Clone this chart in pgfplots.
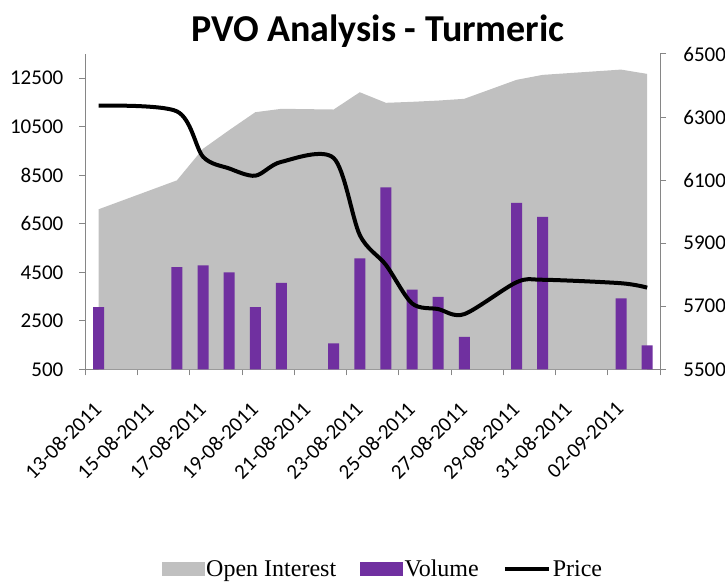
\documentclass[border=0pt]{standalone}
\usepackage{pgfplots}
\pgfplotsset{compat=1.18}
\usepackage{fontspec}
\setmainfont{Carlito}
\newfontfamily\legfont{Liberation Serif}
\definecolor{oigray}{RGB}{192,192,192}
\definecolor{volpurple}{RGB}{112,48,160}
\definecolor{axgray}{RGB}{134,134,134}

\pgfplotstableread{
x oi
0 7097
3 8290
4 9594
5 10360
6 11100
7 11240
9 11211
10 11923
11 11487
12 11528
13 11580
14 11652
16 12434
17 12639
20 12857
21 12680
}\oitable

\pgfplotstableread{
x vol
0 3060
3 4710
4 4780
5 4500
6 3060
7 4060
9 1570
10 5070
11 8000
12 3780
13 3490
14 1840
16 7360
17 6780
20 3420
21 1490
}\voltable

\pgfplotstableread{
x price
0 6336
3 6318
4 6174
5 6137
6 6114
7 6158
9 6170
10 5926
11 5831
12 5709
13 5691
14 5675
16 5776
17 5784
20 5773
21 5759
}\pricetable

\begin{document}
\begin{tikzpicture}
\useasboundingbox (0,0) rectangle (725pt,581pt);
\node[font=\fontsize{38}{44}\selectfont\bfseries, anchor=base] at (378pt,539pt) {PVO Analysis - Turmeric};

\pgfplotsset{
  common/.style={
    at={(85.5pt,211.7pt)}, anchor=south west,
    scale only axis, width=574.7pt, height=315.3pt,
    xmin=-0.5, xmax=21.5,
    tick align=outside, major tick length=6pt,
    scaled y ticks=false, scaled x ticks=false,
    axis line style={axgray, line width=1pt},
    every tick/.style={axgray, line width=1pt},
  }
}

\begin{axis}[common,
  ymin=500, ymax=13500,
  axis x line*=bottom, axis y line*=left,
  ytick={500,2500,4500,6500,8500,10500,12500},
  yticklabels={500,2500,4500,6500,8500,10500,12500},
  yticklabel style={font=\fontsize{21}{25}\selectfont, inner sep=0pt, anchor=east, xshift=-16pt},
  xtick={-0.5,1.5,3.5,5.5,7.5,9.5,11.5,13.5,15.5,17.5,19.5,21.5},
  xticklabels={13-08-2011,15-08-2011,17-08-2011,19-08-2011,21-08-2011,23-08-2011,25-08-2011,27-08-2011,29-08-2011,31-08-2011,02-09-2011,{}},
  xticklabel style={font=\fontsize{21}{25}\selectfont, inner sep=0pt, xshift=7pt, yshift=-25pt, rotate=45, anchor=north east},
]
\addplot[fill=oigray, draw=none] table[x=x,y=oi] {\oitable} \closedcycle;
\addplot[ybar, bar width=11pt, fill=volpurple, draw=none] table[x=x,y=vol] {\voltable};
\end{axis}

\begin{axis}[common,
  ymin=5500, ymax=6500,
  axis y line*=right, axis x line=none,
  ytick={5500,5700,5900,6100,6300,6500},
  yticklabels={5500,5700,5900,6100,6300,6500},
  yticklabel style={font=\fontsize{21}{25}\selectfont, inner sep=0pt, anchor=west, xshift=17pt},
  legend columns=3,
  legend style={draw=none, fill=none, at={(axis description cs:0.5176,-0.633)}, anchor=center,
    font=\legfont\fontsize{24}{28}\selectfont,
    nodes={inner sep=2pt},
    /tikz/every even column/.append style={column sep=22pt}},
]
\addlegendimage{legend image code/.code={\fill[oigray] (0pt,-6.5pt) rectangle (42pt,6.5pt);}}
\addlegendentry{Open Interest}
\addlegendimage{legend image code/.code={\fill[volpurple] (0pt,-6.5pt) rectangle (42pt,6.5pt);}}
\addlegendentry{Volume}
\addplot[black, line width=4pt, smooth, legend image code/.code={\draw[black, line width=4pt] (0pt,0pt) -- (44pt,0pt);}] table[x=x,y=price] {\pricetable};
\addlegendentry{Price}
\end{axis}
\end{tikzpicture}
\end{document}
